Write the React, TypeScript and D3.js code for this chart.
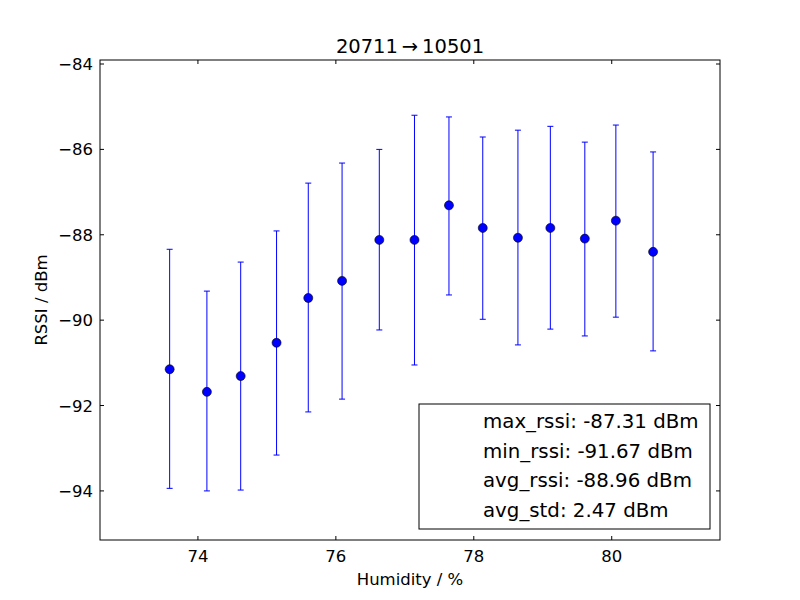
import React from "react";
import * as d3 from "d3";

const humidity = [73.59, 74.13, 74.62, 75.14, 75.6, 76.09, 76.63, 77.14, 77.64, 78.13, 78.64, 79.11, 79.61, 80.06, 80.6];
const rssiMean = [-91.15, -91.68, -91.31, -90.53, -89.48, -89.08, -88.12, -88.12, -87.31, -87.84, -88.07, -87.84, -88.09, -87.67, -88.40];
const rssiUpper = [-88.34, -89.32, -88.64, -87.91, -86.79, -86.32, -86.0, -85.2, -85.24, -85.71, -85.55, -85.46, -85.83, -85.43, -86.06];
const rssiLower = [-93.94, -94.0, -93.98, -93.16, -92.15, -91.85, -90.23, -91.05, -89.41, -89.98, -90.58, -90.21, -90.37, -89.93, -90.72];
const xTicks = [74, 76, 78, 80];
const yTicks = [-94, -92, -90, -88, -86, -84];
const legendLines = ["max_rssi: -87.31 dBm", "min_rssi: -91.67 dBm", "avg_rssi: -88.96 dBm", "avg_std: 2.47 dBm"];

export default function App() {
  const L = 100, R = 720, T = 60, B = 540;
  const x = d3.scaleLinear().domain([72.58, 81.57]).range([L, R]);
  const y = d3.scaleLinear().domain([-95.15, -83.906]).range([B, T]);
  const font = "DejaVu Sans";
  const fmt = (v: number) => (v < 0 ? "\u2212" + Math.abs(v) : String(v));
  return (
    <svg width={800} height={600} style={{ display: "block", position: "absolute", left: 0, top: 0 }} fontFamily={font}>
      <rect width={800} height={600} fill="#fff" />
      {humidity.map((h, i) => (
        <g key={i} stroke="#0000ff" strokeWidth={1}>
          <line x1={x(h)} x2={x(h)} y1={y(rssiUpper[i])} y2={y(rssiLower[i])} />
          <line x1={x(h) - 3} x2={x(h) + 3} y1={y(rssiUpper[i])} y2={y(rssiUpper[i])} />
          <line x1={x(h) - 3} x2={x(h) + 3} y1={y(rssiLower[i])} y2={y(rssiLower[i])} />
          <circle cx={x(h)} cy={y(rssiMean[i])} r={4.5} fill="#0000ff" stroke="#000" strokeWidth={0.6} />
        </g>
      ))}
      <rect x={L} y={T} width={R - L} height={B - T} fill="none" stroke="#000" strokeWidth={1} />
      {xTicks.map((t) => (
        <g key={t}>
          <line x1={x(t)} x2={x(t)} y1={B} y2={B - 4} stroke="#000" />
          <line x1={x(t)} x2={x(t)} y1={T} y2={T + 4} stroke="#000" />
          <text x={x(t)} y={B + 22} fontSize={16.5} textAnchor="middle">{t}</text>
        </g>
      ))}
      {yTicks.map((t) => (
        <g key={t}>
          <line x1={L} x2={L + 4} y1={y(t)} y2={y(t)} stroke="#000" />
          <line x1={R} x2={R - 4} y1={y(t)} y2={y(t)} stroke="#000" />
          <text x={L - 7} y={y(t) + 6} fontSize={16.5} textAnchor="end">{fmt(t)}</text>
        </g>
      ))}
      <text x={410} y={53} fontSize={19.5} textAnchor="middle">20711{"\u2009\u2192\u2009"}10501</text>
      <text x={410} y={585} fontSize={16.5} textAnchor="middle">Humidity / %</text>
      <text transform="translate(47,300) rotate(-90)" fontSize={16.5} textAnchor="middle">RSSI / dBm</text>
      <rect x={419} y={404} width={291} height={125} fill="#fff" stroke="#000" />
      {legendLines.map((s, i) => (
        <text key={i} x={483} y={428 + i * 29.5} fontSize={19.8}>{s}</text>
      ))}
    </svg>
  );
}
